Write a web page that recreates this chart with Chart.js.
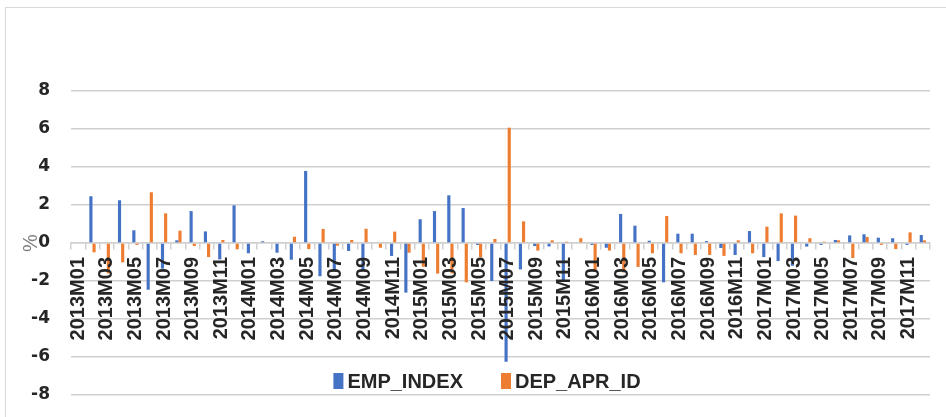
<!DOCTYPE html>
<html>
<head>
<meta charset="utf-8">
<script src="https://cdn.jsdelivr.net/npm/chart.js@4.4.1/dist/chart.umd.min.js"></script>
<style>
  html, body { margin: 0; padding: 0; background: #fff; overflow: hidden; }
  #frame {
    position: absolute; left: 5px; top: 7px; width: 941px; height: 410px;
    border-left: 1px solid #d9d9d9; border-top: 1px solid #d9d9d9; box-sizing: border-box;
  }
  #wrap { position: absolute; left: 0; top: 0; width: 946px; height: 417px; }
</style>
</head>
<body>
<div id="frame"></div>
<div id="wrap"><canvas id="chart"></canvas></div>
<script>
"use strict";

// DATA -----------------------
const months = [
  "2013M01", "2013M02", "2013M03", "2013M04", "2013M05", "2013M06",
  "2013M07", "2013M08", "2013M09", "2013M10", "2013M11", "2013M12",
  "2014M01", "2014M02", "2014M03", "2014M04", "2014M05", "2014M06",
  "2014M07", "2014M08", "2014M09", "2014M10", "2014M11", "2014M12",
  "2015M01", "2015M02", "2015M03", "2015M04", "2015M05", "2015M06",
  "2015M07", "2015M08", "2015M09", "2015M10", "2015M11", "2015M12",
  "2016M01", "2016M02", "2016M03", "2016M04", "2016M05", "2016M06",
  "2016M07", "2016M08", "2016M09", "2016M10", "2016M11", "2016M12",
  "2017M01", "2017M02", "2017M03", "2017M04", "2017M05", "2017M06",
  "2017M07", "2017M08", "2017M09", "2017M10", "2017M11", "2017M12"
];

const empIndex = [
  null, 2.46, 0, 2.25, 0.67, -2.46, -1.35, 0.14, 1.68, 0.61, -0.86, 1.98,
  -0.54, 0.09, -0.51, -0.88, 3.79, -1.75, -1.5, -0.42, -1.45, 0, -0.68, -2.61,
  1.25, 1.68, 2.51, 1.84, -0.1, -2.0, -6.25, -1.39, -0.16, -0.18, -2.0, 0,
  -0.1, -0.25, 1.53, 0.91, 0.12, -2.07, 0.49, 0.49, 0.1, -0.26, -0.63, 0.63,
  -0.74, -0.95, -1.2, -0.19, -0.1, 0.16, 0.4, 0.46, 0.28, 0.25, -0.1, 0.42
];

const depAprId = [
  null, -0.49, -1.6, -1.02, -0.1, 2.67, 1.56, 0.65, -0.16, -0.74, 0.16, -0.33,
  0, 0, 0, 0.33, -0.32, 0.74, -0.14, 0.16, 0.75, -0.25, 0.6, -0.51,
  -1.25, -1.61, -1.6, -2.07, -0.74, 0.21, 6.07, 1.14, -0.4, 0.14, 0.07, 0.25,
  -1.5, -0.4, -1.55, -1.26, -0.54, 1.42, -0.54, -0.63, -0.63, -0.68, 0.14, -0.54,
  0.86, 1.56, 1.44, 0.25, 0.07, 0.14, -0.79, 0.32, -0.1, -0.32, 0.56, 0.14
];

const seriesNames = ["EMP_INDEX", "DEP_APR_ID"];
const seriesColors = ["#4472C4", "#ED7D31"];

const yMin = -8;
const yMax = 8;
const yStep = 2;

// Legend drawn inside the plot, between the -6 and -8 gridlines
const insideLegend = {
  id: 'insideLegend',
  afterDraw(chart) {
    const ctx = chart.ctx;
    const sets = chart.data.datasets;
    ctx.save();
    ctx.font = 'bold 20px "Liberation Sans", Arial, sans-serif';
    ctx.textBaseline = 'middle';
    const boxW = 10, boxH = 16, gap = 4, space = 38;
    const widths = sets.map(d => ctx.measureText(d.label).width);
    const total = widths.reduce((s, w) => s + boxW + gap + w, 0) + space * (sets.length - 1);
    let x = 487 - total / 2;
    const y = 381;
    sets.forEach((d, i) => {
      ctx.fillStyle = d.backgroundColor;
      ctx.fillRect(x, y - boxH / 2, boxW, boxH);
      ctx.fillStyle = '#262626';
      ctx.fillText(d.label, x + boxW + gap, y + 1);
      x += boxW + gap + widths[i] + space;
    });
    ctx.restore();
  }
};

new Chart(document.getElementById('chart'), {
  type: 'bar',
  data: {
    labels: months,
    datasets: [
      { label: seriesNames[0], data: empIndex, backgroundColor: seriesColors[0] },
      { label: seriesNames[1], data: depAprId, backgroundColor: seriesColors[1] }
    ]
  },
  options: {
    responsive: true,
    maintainAspectRatio: false,
    animation: false,
    categoryPercentage: 0.44,
    barPercentage: 1.0,
    layout: { padding: { left: 6, right: 16, top: 91, bottom: 22 } },
    plugins: {
      legend: { display: false },
      tooltip: { enabled: false }
    },
    scales: {
      x: {
        // category axis sits on the zero line, labels drawn over the bars
        position: { y: 0 },
        grid: { drawOnChartArea: false, drawTicks: true, tickLength: 6, color: '#d0d0d0', lineWidth: 1.5 },
        border: { display: true, color: '#d0d0d0', width: 1.5 },
        ticks: {
          z: 1,
          autoSkip: false,
          minRotation: 90,
          maxRotation: 90,
          padding: 8,
          color: '#262626',
          font: { family: '"Liberation Sans", Arial, sans-serif', size: 20, weight: 'bold' },
          callback: function (value, index) {
            return index % 2 === 0 ? this.getLabelForValue(value) : '';
          }
        },
        afterFit(scale) {
          scale.paddingLeft = 0;
          scale.paddingRight = 0;
        }
      },
      y: {
        min: yMin,
        max: yMax,
        grid: { color: '#d0d0d0', lineWidth: 1.5, drawTicks: false },
        border: { display: false },
        ticks: {
          stepSize: yStep,
          padding: 21,
          color: '#262626',
          font: { family: '"DejaVu Sans", sans-serif', size: 17, weight: 'bold' }
        },
        title: {
          display: true,
          text: '%',
          color: '#7f7f7f',
          font: { family: '"Liberation Sans", Arial, sans-serif', size: 20 },
          padding: { top: 13, bottom: 0 }
        },
        afterFit(scale) {
          scale.width = 65;
          scale.paddingTop = 0;
          scale.paddingBottom = 0;
        }
      }
    }
  },
  plugins: [insideLegend]
});
</script>
</body>
</html>
